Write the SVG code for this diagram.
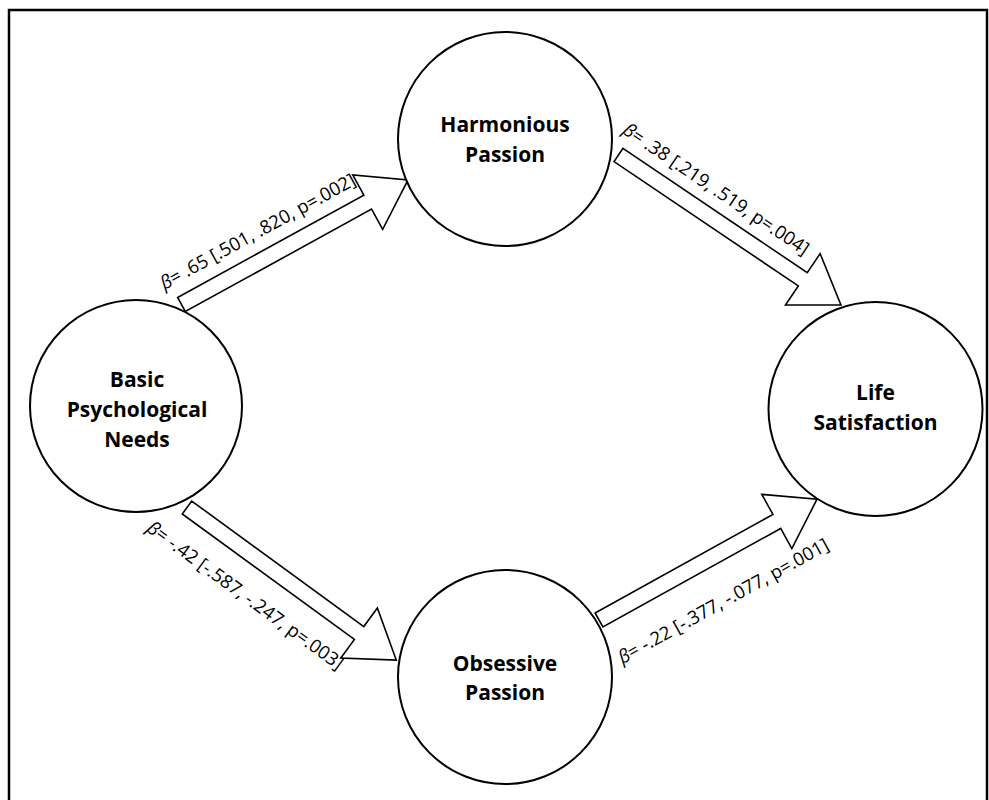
<svg xmlns="http://www.w3.org/2000/svg" width="989" height="800" viewBox="0 0 989 800">
<style>
.frame{fill:none;stroke:#000;stroke-width:2.5}
.node{fill:#fff;stroke:#000;stroke-width:2}
.ntext{font-family:"Open Sans","Liberation Sans",sans-serif;font-weight:bold;font-size:21px;fill:#000;text-anchor:middle}
.arrow{fill:#fff;stroke:#000;stroke-width:1.6;stroke-linejoin:miter}
.lbl{font-family:"Open Sans","Liberation Sans",sans-serif;font-size:18.5px;fill:#000;text-anchor:middle}
.beta{font-style:italic}
</style>
<rect width="989" height="800" fill="#fff"/>
<rect class="frame" x="9" y="10" width="978" height="800"/>
<g id="connectors">
  <g id="e1" transform="translate(181.5,304.5) rotate(-28.8)">
    <path class="arrow" d="M0,-8 L212.5,-8 L212.5,-31 L258.5,0 L212.5,31 L212.5,8 L0,8 Z"/>
    <text class="lbl" x="102" y="-21"><tspan class="beta">β</tspan>= .65 [.501, .820, p=.002]</text>
  </g>
  <g id="e2" transform="translate(618.5,155) rotate(34)">
    <path class="arrow" d="M0,-8 L222.3,-8 L222.3,-31 L268.3,0 L222.3,31 L222.3,8 L0,8 Z"/>
    <text class="lbl" x="100" y="-20"><tspan class="beta">β</tspan>= .38 [.219, .519, p=.004]</text>
  </g>
  <g id="e3" transform="translate(187,507.5) rotate(36.1)">
    <path class="arrow" d="M0,-8 L213,-8 L213,-31 L259,0 L213,31 L213,8 L0,8 Z"/>
    <text class="lbl" x="99" y="43"><tspan class="beta">β</tspan>= -.42 [-.587, -.247, p=.003]</text>
  </g>
  <g id="e4" transform="translate(599,620) rotate(-29)">
    <path class="arrow" d="M0,-8 L203.3,-8 L203.3,-31 L249.3,0 L203.3,31 L203.3,8 L0,8 Z"/>
    <text class="lbl" x="118" y="50"><tspan class="beta">β</tspan>= -.22 [-.377, -.077, p=.001]</text>
  </g>
</g>
<g id="bpn">
  <circle class="node" cx="136" cy="406" r="106"/>
  <text class="ntext" x="137" y="387">Basic</text>
  <text class="ntext" x="137" y="417">Psychological</text>
  <text class="ntext" x="137" y="447">Needs</text>
</g>
<g id="hp">
  <circle class="node" cx="505" cy="139" r="107"/>
  <text class="ntext" x="505" y="132">Harmonious</text>
  <text class="ntext" x="505" y="162">Passion</text>
</g>
<g id="op">
  <circle class="node" cx="505" cy="677" r="107"/>
  <text class="ntext" x="505" y="671">Obsessive</text>
  <text class="ntext" x="505" y="700">Passion</text>
</g>
<g id="ls">
  <circle class="node" cx="875.5" cy="409" r="107"/>
  <text class="ntext" x="875.5" y="400">Life</text>
  <text class="ntext" x="875.5" y="430">Satisfaction</text>
</g>
</svg>
